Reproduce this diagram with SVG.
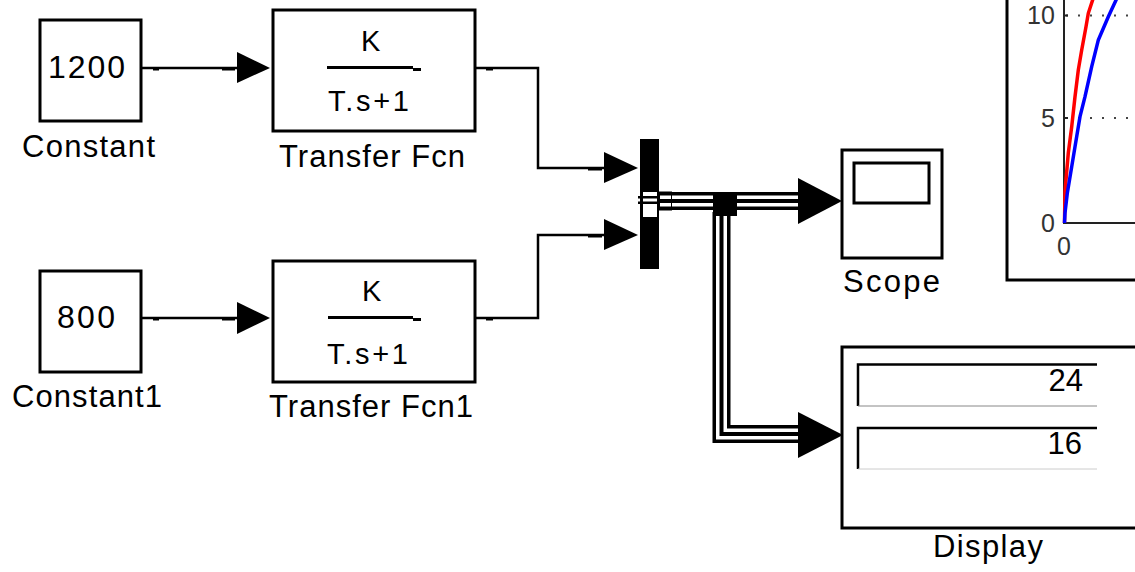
<svg xmlns="http://www.w3.org/2000/svg" width="1135" height="572" viewBox="0 0 1135 572">
<style>
.blk{fill:#fff;stroke:#000;stroke-width:3}
.lbl{font-family:"Liberation Sans",Arial,sans-serif;font-size:31px;fill:#000}
.val{font-family:"Liberation Sans",Arial,sans-serif;font-size:32px;fill:#000}
.tf{font-family:"Liberation Sans",Arial,sans-serif;font-size:29px;fill:#000}
.tick{font-family:"Liberation Sans",Arial,sans-serif;font-size:25px;fill:#333}
.wire{fill:none;stroke:#000;stroke-width:2.5}
.bus0{fill:none;stroke:#000;stroke-width:18;stroke-linejoin:miter}
.bus1{fill:none;stroke:#fff;stroke-width:11;stroke-linejoin:miter}
.bus2{fill:none;stroke:#000;stroke-width:4;stroke-linejoin:miter}
.port{fill:#000}
</style>
<rect width="1135" height="572" fill="#fff"/>

<g id="plot">
  <path d="M1007,0 V280 H1135" fill="none" stroke="#000" stroke-width="3"/>
  <path d="M1064,0 V223 H1135" fill="none" stroke="#222" stroke-width="2"/>
  <path d="M1066,15.5 H1135 M1066,118 H1135" fill="none" stroke="#444" stroke-width="2" stroke-dasharray="2 10"/>
  <path d="M1064,15.5 H1068 M1064,118 H1068" stroke="#222" stroke-width="2"/>
  <text class="tick" x="1027" y="24">10</text>
  <text class="tick" x="1041" y="127">5</text>
  <text class="tick" x="1041" y="232">0</text>
  <text class="tick" x="1057" y="255">0</text>
  <polyline fill="none" stroke="#f00" stroke-width="3.5" points="1064.5,223 1065,192 1066,180 1068.3,153 1071.7,126.7 1075,96.7 1078.3,70 1081.7,50 1086,26.7 1088.3,13.3 1093.3,-2"/>
  <polyline fill="none" stroke="#00f" stroke-width="3.5" points="1064.5,223 1065,213 1067.3,193.3 1071.7,166.7 1075,146.7 1080,116.7 1085,96.7 1091.7,66.7 1098.3,40 1108.3,16.7 1117,-2"/>
</g>

<g id="connectors">
  <path class="wire" d="M141,68 H240"/>
  <polygon points="237,52 270,68 237,83"/>
  <rect class="port" x="153" y="67.5" width="6" height="3"/>
  <rect class="port" x="222" y="67.5" width="13" height="3"/>
  <path class="wire" d="M141,318 H240"/>
  <polygon points="237,302 270,318 237,334"/>
  <rect class="port" x="153" y="317.5" width="6" height="3"/>
  <rect class="port" x="222" y="317.5" width="13" height="3"/>
  <path class="wire" d="M475,68 H538 V168 H606"/>
  <polygon points="604,152 638,168 604,183"/>
  <rect class="port" x="486" y="67.5" width="7" height="3"/>
  <rect class="port" x="588" y="167.5" width="14" height="3"/>
  <path class="wire" d="M475,318 H538 V235 H606"/>
  <polygon points="604,219 638,235 604,250"/>
  <rect class="port" x="486" y="317.5" width="7" height="3"/>
  <rect class="port" x="588" y="234.5" width="14" height="3"/>
  <path class="bus0" d="M659,201 H800"/>
  <path class="bus1" d="M659,201 H800"/>
  <path class="bus2" d="M659,201 H800"/>
  <path class="bus0" d="M721.5,212 V434 H800"/>
  <path class="bus1" d="M721.5,212 V434 H800"/>
  <path class="bus2" d="M721.5,212 V434 H800"/>
  <rect x="713" y="192" width="24" height="24" fill="#000"/>
  <rect x="659.5" y="192" width="12" height="18" fill="none" stroke="#000" stroke-width="1"/>
  <polygon points="798,178 842,201 798,224"/>
  <polygon points="798,412 843,435 798,458"/>
</g>

<g id="constant">
  <rect class="blk" x="40" y="20" width="101" height="101"/>
  <text class="val" x="48" y="78" textLength="77" lengthAdjust="spacing">1200</text>
  <text class="lbl" x="22" y="157" textLength="133" lengthAdjust="spacing">Constant</text>
</g>

<g id="constant1">
  <rect class="blk" x="40" y="271" width="101" height="101"/>
  <text class="val" x="57" y="328" textLength="58" lengthAdjust="spacing">800</text>
  <text class="lbl" x="12" y="407" textLength="150" lengthAdjust="spacing">Constant1</text>
</g>

<g id="transfer-fcn">
  <rect class="blk" x="273" y="10" width="202" height="121"/>
  <text class="tf" x="361" y="51" textLength="21" lengthAdjust="spacing">K</text>
  <rect x="327" y="66" width="86" height="3" fill="#000"/>
  <rect class="port" x="413" y="68" width="8" height="3"/>
  <text class="tf" x="328" y="111" textLength="81" lengthAdjust="spacing">T.s+1</text>
  <text class="lbl" x="279" y="167" textLength="186" lengthAdjust="spacing">Transfer Fcn</text>
</g>

<g id="transfer-fcn1">
  <rect class="blk" x="273" y="261" width="202" height="121"/>
  <text class="tf" x="362" y="301" textLength="21" lengthAdjust="spacing">K</text>
  <rect x="328" y="316" width="85" height="3" fill="#000"/>
  <rect class="port" x="413" y="318" width="8" height="3"/>
  <text class="tf" x="327" y="364" textLength="81" lengthAdjust="spacing">T.s+1</text>
  <text class="lbl" x="269" y="417" textLength="204" lengthAdjust="spacing">Transfer Fcn1</text>
</g>

<g id="mux">
  <rect x="640" y="139" width="19" height="130" fill="#000"/>
  <rect x="643" y="192" width="14" height="25" fill="#fff"/>
  <rect x="638" y="196" width="19" height="2.5" fill="#000"/>
  <rect x="638" y="201.5" width="19" height="2.5" fill="#000"/>
</g>

<g id="scope">
  <rect class="blk" x="842" y="150" width="100" height="108"/>
  <rect class="blk" x="854" y="163" width="75" height="40"/>
  <text class="lbl" x="843" y="292" textLength="97" lengthAdjust="spacing">Scope</text>
</g>

<g id="display">
  <rect class="blk" x="842" y="347" width="300" height="181"/>
  <path d="M858,406 V364.5 H1097" fill="none" stroke="#000" stroke-width="2.5"/>
  <path d="M858,406 H1097" fill="none" stroke="#888" stroke-width="1"/>
  <path d="M858,469 V428 H1097" fill="none" stroke="#000" stroke-width="2.5"/>
  <path d="M858,469 H1097" fill="none" stroke="#ccc" stroke-width="1"/>
  <text class="lbl" x="1083" y="391" text-anchor="end">24</text>
  <text class="lbl" x="1082" y="454" text-anchor="end">16</text>
  <text class="lbl" x="933" y="557" textLength="110" lengthAdjust="spacing">Display</text>
</g>
</svg>
